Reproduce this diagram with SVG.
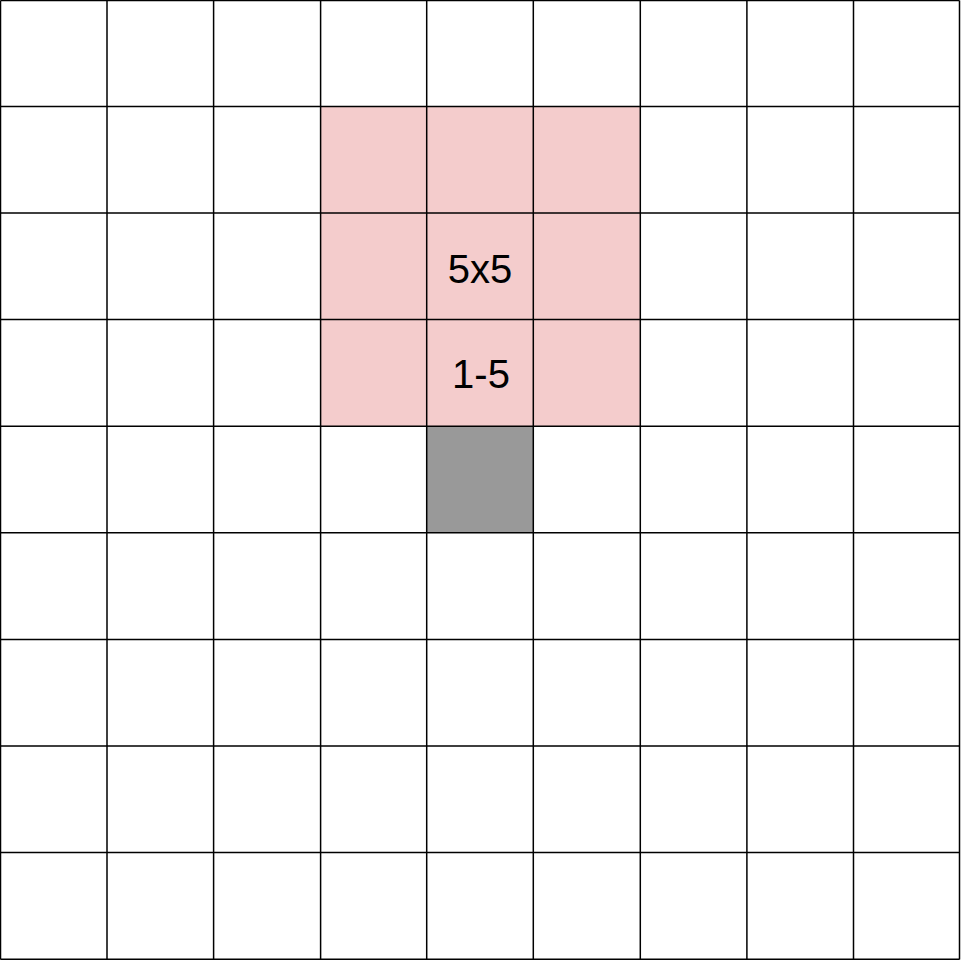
<svg xmlns="http://www.w3.org/2000/svg" width="961" height="960" viewBox="0 0 961 960">
<style>
.g{stroke:#000;stroke-width:1.5;fill:none}
.t{font-family:"Liberation Sans",Arial,sans-serif;font-size:40px;fill:#000;text-anchor:middle}
</style>
<rect x="0" y="0" width="961" height="960" fill="#fff"/>
<g id="pink-area"><rect x="320.6" y="106.5" width="319.7" height="319.7" fill="#f4cccc"/></g>
<g id="gray-cell"><rect x="426.7" y="426.2" width="106.6" height="106.6" fill="#999999"/></g>
<g id="grid" class="g">
<path d="M0.5 0.5V959.5M107 0.5V959.5M213.6 0.5V959.5M320.6 0.5V959.5M426.7 0.5V959.5M533.3 0.5V959.5M640.3 0.5V959.5M746.9 0.5V959.5M853.5 0.5V959.5M959.5 0.5V959.5"/>
<path d="M0.5 0.5H959.5M0.5 106.5H959.5M0.5 213H959.5M0.5 319.6H959.5M0.5 426.2H959.5M0.5 532.8H959.5M0.5 639.4H959.5M0.5 746H959.5M0.5 852.6H959.5M0.5 959.2H959.5"/>
</g>
<g id="labels">
<text class="t" x="480" y="282.5">5x5</text>
<text class="t" x="481" y="388">1-5</text>
</g>
</svg>
